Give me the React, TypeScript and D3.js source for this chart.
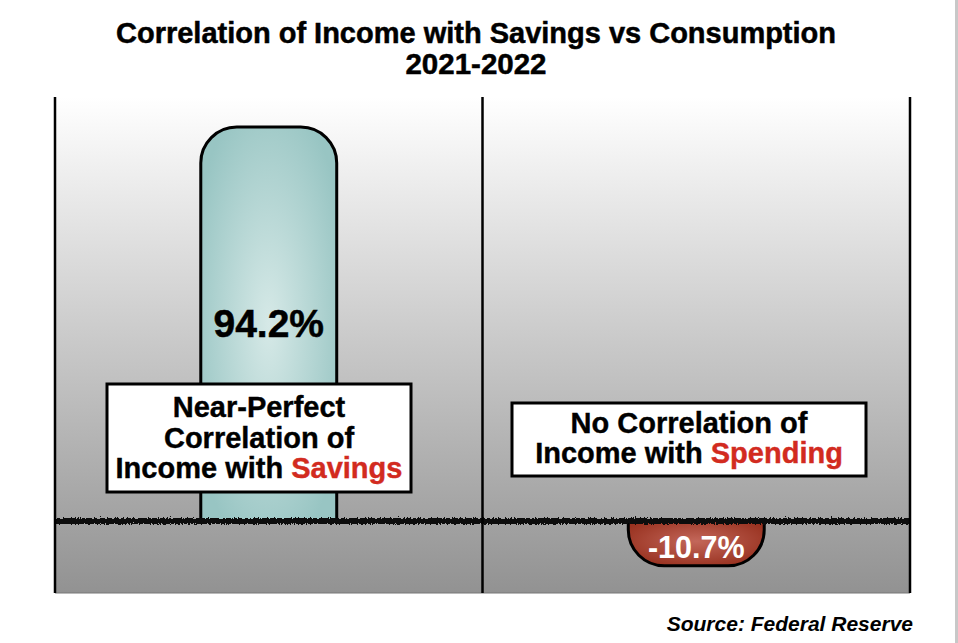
import React from "react";
import * as d3 from "d3";

const categories = ["Savings", "Spending"];
const values = [94.2, -10.7];
const valueLabels = ["94.2%", "-10.7%"];
const yDomain = [-17.2, 101.4];
const titleLines = ["Correlation of Income with Savings vs Consumption", "2021-2022"];
const box1Lines = [["Near-Perfect", ""], ["Correlation of", ""], ["Income with ", "Savings"]];
const box2Lines = [["No Correlation of", ""], ["Income with ", "Spending"]];
const sourceText = "Source: Federal Reserve";

const W = 958;
const H = 643;
const FONT = "'Liberation Sans', Arial, Helvetica, sans-serif";

function barPath(x0: number, x1: number, yBase: number, yEnd: number, r: number) {
  const up = yEnd < yBase;
  const h = Math.abs(yBase - yEnd);
  const rr = Math.min(r, h, (x1 - x0) / 2);
  if (up) {
    return `M${x0},${yBase} L${x0},${yEnd + rr} A${rr},${rr} 0 0 1 ${x0 + rr},${yEnd} L${x1 - rr},${yEnd} A${rr},${rr} 0 0 1 ${x1},${yEnd + rr} L${x1},${yBase}`;
  }
  return `M${x0},${yBase} L${x0},${yEnd - rr} A${rr},${rr} 0 0 0 ${x0 + rr},${yEnd} L${x1 - rr},${yEnd} A${rr},${rr} 0 0 0 ${x1},${yEnd - rr} L${x1},${yBase}`;
}

export default function App() {
  const left = 55, right = 910, top = 97, bottom = 593;
  const x = d3.scaleBand<string>().domain(categories).range([left, right]).paddingInner(0).paddingOuter(0);
  const y = d3.scaleLinear().domain(yDomain).range([bottom, top]);
  const bw = x.bandwidth() * 0.318;
  const y0 = y(0);

  const Box = ({ cx, y0b, w, h, first, lines, lh, fs }: any) => (
    <g>
      <rect x={cx - w / 2} y={y0b} width={w} height={h} fill="#fff" stroke="#000" strokeWidth={3} />
      {lines.map((l: string[], i: number) => (
        <text key={i} x={cx} y={y0b + first + lh * i} textAnchor="middle" fontFamily={FONT} fontWeight="bold" fontSize={fs} fill="#000" stroke="#000" strokeWidth={0.4}>
          {l[0]}
          {l[1] ? <tspan fill="#d22b1f" stroke="#d22b1f">{l[1]}</tspan> : null}
        </text>
      ))}
    </g>
  );

  return (
    <svg width={W} height={H} style={{ position: "absolute", left: 0, top: 0, background: "#fff" }}>
      <defs>
        <linearGradient id="bg" x1="0" y1="0" x2="0" y2="1">
          <stop offset="0" stopColor="#ffffff" />
          <stop offset="1" stopColor="#929292" />
        </linearGradient>
        <radialGradient id="teal" cx="0.5" cy="0.5" r="0.6">
          <stop offset="0" stopColor="#d6e9e7" />
          <stop offset="1" stopColor="#98c5c3" />
        </radialGradient>
        <radialGradient id="red" cx="0.5" cy="0.45" r="0.6">
          <stop offset="0" stopColor="#c3675a" />
          <stop offset="1" stopColor="#98311f" />
        </radialGradient>
        <filter id="rough" filterUnits="userSpaceOnUse" x={left - 5} y={y0 - 12} width={right - left + 10} height={24}>
          <feTurbulence type="fractalNoise" baseFrequency="0.7 0.5" numOctaves={2} seed={3} result="n" />
          <feDisplacementMap in="SourceGraphic" in2="n" scale={5} xChannelSelector="R" yChannelSelector="G" />
        </filter>
      </defs>

      <rect x={955} y={0} width={3} height={H} fill="#c8c8c8" />

      <text x={476} y={43} textAnchor="middle" fontFamily={FONT} fontWeight="bold" fontSize={29} textLength={720} lengthAdjust="spacingAndGlyphs" stroke="#000" strokeWidth={0.5}>{titleLines[0]}</text>
      <text x={476} y={74} textAnchor="middle" fontFamily={FONT} fontWeight="bold" fontSize={29.5} stroke="#000" strokeWidth={0.5}>{titleLines[1]}</text>

      <rect x={left} y={top} width={right - left} height={bottom - top} fill="url(#bg)" />
      <line x1={left} x2={right} y1={bottom} y2={bottom} stroke="#777" strokeWidth={1} />

      {categories.map((c, i) => {
        const x0 = x(c)! + (x.bandwidth() - bw) / 2;
        const x1 = x0 + bw;
        const ye = y(values[i]);
        const d = barPath(x0, x1, y0, ye, 36);
        return (
          <g key={c}>
            <path d={d + "Z"} fill={values[i] >= 0 ? "url(#teal)" : "url(#red)"} stroke="none" />
            <path d={d} fill="none" stroke="#000" strokeWidth={3} />
          </g>
        );
      })}

      <line x1={left} x2={right} y1={y0} y2={y0} stroke="#111" strokeWidth={6} filter="url(#rough)" />

      {[left, x(categories[1])!, right].map((xx, i) => (
        <line key={i} x1={xx} x2={xx} y1={top} y2={bottom} stroke="#000" strokeWidth={2.5} />
      ))}

      <text x={x(categories[0])! + x.bandwidth() / 2} y={337} textAnchor="middle" fontFamily={FONT} fontWeight="bold" fontSize={39} fill="#000" stroke="#000" strokeWidth={0.5}>{valueLabels[0]}</text>
      <text x={x(categories[1])! + x.bandwidth() / 2} y={558} textAnchor="middle" fontFamily={FONT} fontWeight="bold" fontSize={30.5} fill="#fff">{valueLabels[1]}</text>

      <Box cx={259} y0b={384} w={304} h={108} first={33} lines={box1Lines} lh={30.5} fs={29} />
      <Box cx={689} y0b={403} w={354} h={73} first={30} lines={box2Lines} lh={30} fs={29} />

      <text x={913} y={631} textAnchor="end" fontFamily={FONT} fontWeight="bold" fontStyle="italic" fontSize={21}>{sourceText}</text>
    </svg>
  );
}
